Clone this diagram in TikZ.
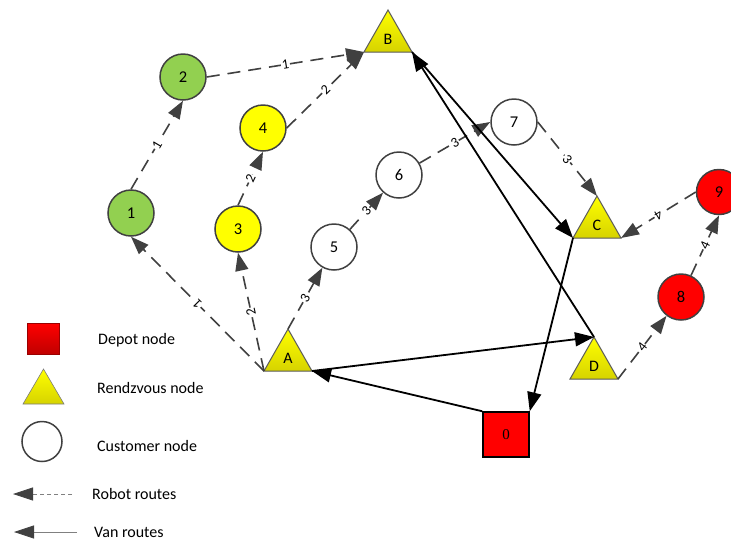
\documentclass[tikz,border=0pt]{standalone}
\usepackage{fontspec}
\setmainfont{Carlito}
\newfontfamily\depotfont{Liberation Serif}
\usetikzlibrary{arrows.meta}

\definecolor{edgegray}{HTML}{404040}
\definecolor{legline}{HTML}{808080}
\definecolor{leafgreen}{HTML}{92D050}
\definecolor{sunyellow}{HTML}{FFFF00}
\definecolor{rdvtop}{HTML}{FFFF00}
\definecolor{rdvbot}{HTML}{D6D300}
\definecolor{rdvedge}{HTML}{5A5A5A}
\definecolor{depotred}{HTML}{FF0000}
\definecolor{depotdark}{HTML}{C00000}

\tikzset{
  cust/.style={circle, draw=edgegray, line width=1.5pt, minimum size=46pt,
    inner sep=0pt, fill=white, font=\fontsize{16.5}{16.5}\selectfont},
  depot/.style={rectangle, draw=black, line width=1.5pt, fill=depotred,
    minimum width=46pt, minimum height=45pt, inner sep=0pt,
    font=\depotfont\fontsize{15}{15}\selectfont},
  rdvshape/.style={draw=rdvedge, line width=1pt, top color=rdvtop,
    bottom color=rdvbot, line join=miter},
  tlbl/.style={inner sep=0pt, font=\fontsize{16}{16}\selectfont},
  robot/.style={draw=edgegray, line width=1.6pt, dash pattern=on 13pt off 8pt,
    -{Triangle[length=18pt,width=13pt,color=edgegray]}},
  van/.style={draw=black, line width=1.8pt,
    -{Triangle[length=19pt,width=14pt]}},
  elbl/.style={midway, sloped, allow upside down, fill=white, inner sep=0.8pt,
    font=\fontsize{14}{14}\selectfont},
  legtext/.style={anchor=base west, inner sep=0pt, font=\fontsize{16}{16}\selectfont},
  legrobot/.style={draw=legline, line width=0.8pt, dash pattern=on 4pt off 3pt,
    -{Triangle[length=20pt,width=13pt,color=edgegray]}},
  legvan/.style={draw=legline, line width=0.8pt,
    -{Triangle[length=20pt,width=13pt,color=edgegray]}},
}

% rendezvous triangle: name, apex x, base y
\newcommand{\rdv}[3]{%
  \coordinate (t#1-l) at (#2-24,#3);
  \coordinate (t#1-r) at (#2+24,#3);
  \coordinate (t#1-t) at (#2,#3-42);
  \path[rdvshape] (t#1-l) -- (t#1-r) -- (t#1-t) -- cycle;
  \node[tlbl] (t#1) at (#2,#3-13) {#1};
}

\begin{document}
\begin{tikzpicture}[x=1pt, y=-1pt]
\useasboundingbox (0,0) rectangle (731,542);

% customer nodes
\node[cust, fill=leafgreen] (n1) at (131,213) {1};
\node[cust, fill=leafgreen] (n2) at (183,77) {2};
\node[cust, fill=sunyellow] (n3) at (238,229) {3};
\node[cust, fill=sunyellow] (n4) at (263,128) {4};
\node[cust] (n5) at (334,247) {5};
\node[cust] (n6) at (399,175) {6};
\node[cust] (n7) at (514,122) {7};
\node[cust, fill=depotred] (n8) at (681,297) {8};
\node[cust, fill=depotred, minimum size=45pt] (n9) at (719,192) {9};

% depot
\node[depot] (n0) at (506,434.5) {0};

% rendezvous nodes
\rdv{A}{288}{371}
\rdv{B}{388}{52}
\rdv{C}{597}{238}
\rdv{D}{594}{379}

% robot routes
\draw[robot] (tA-l) -- (n1.south) node[elbl] {1};
\draw[robot] (n1.north) -- (n2.south) node[elbl] {1};
\draw[robot] (n2.east) -- (tB-l) node[elbl] {1};
\draw[robot] (tA-l) -- (n3.south) node[elbl] {2};
\draw[robot] (n3.north) -- (n4.south) node[elbl] {2};
\draw[robot] (n4.east) -- (tB-l) node[elbl] {2};
\draw[robot] (tA-t) -- (n5) node[elbl] {3};
\draw[robot] (n5) -- (n6) node[elbl] {3};
\draw[robot] (n6) -- (n7.west) node[elbl] {3};
\draw[robot] (n7.east) -- (tC-t) node[elbl] {3};
\draw[robot] (tD-r) -- (n8) node[elbl] {4};
\draw[robot] (n8) -- (n9.south) node[elbl] {4};
\draw[robot] (n9.west) -- (tC-r) node[elbl] {4};

% van routes
\draw[van] (n0.north west) -- (tA-r);
\draw[van] (tA-r) -- (tD-t);
\draw[van] (tD-t) -- (tB-r);
\draw[van] (tB-r) -- (tC-l);
\draw[van] (tC-l) -- (n0.north east);

% legend
\node[rectangle, draw=depotdark!80!black, line width=0.6pt, top color=depotred,
  bottom color=depotdark, minimum width=32pt, minimum height=31pt, inner sep=0pt]
  (legdepot) at (43,338.5) {};
\coordinate (lt-l) at (23,404);
\coordinate (lt-r) at (64,404);
\coordinate (lt-t) at (43.5,369);
\path[rdvshape, line width=0.6pt, draw=rdvedge!80] (lt-l) -- (lt-r) -- (lt-t) -- cycle;
\node[cust, minimum size=40pt] (legcust) at (42,441.5) {};
\coordinate (lr-a) at (72,494);
\coordinate (lr-b) at (13,494);
\draw[legrobot] (lr-a) -- (lr-b);
\coordinate (lv-a) at (77,532);
\coordinate (lv-b) at (14,532);
\draw[legvan] (lv-a) -- (lv-b);

\node[legtext] (ldepot) at (98,344) {Depot node};
\node[legtext] (lrdv) at (97,393) {Rendzvous node};
\node[legtext] (lcust) at (97,451) {Customer node};
\node[legtext] (lrobot) at (92,499) {Robot routes};
\node[legtext] (lvan) at (94,537) {Van routes};
\end{tikzpicture}
\end{document}
